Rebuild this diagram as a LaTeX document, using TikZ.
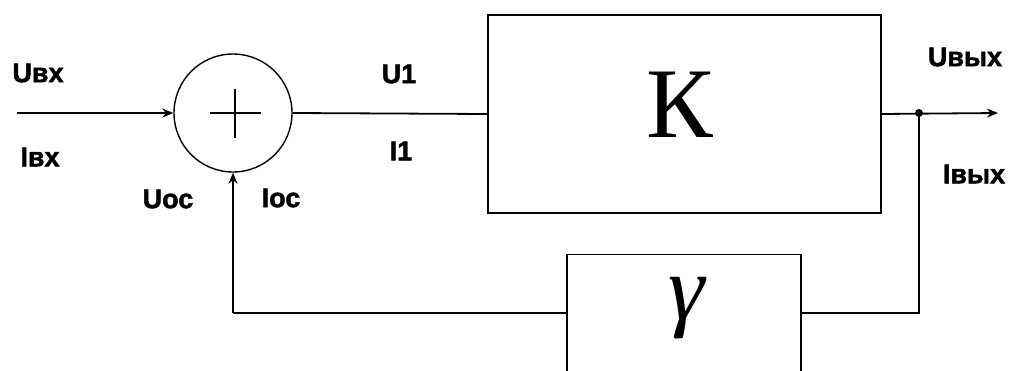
\documentclass[tikz,border=0pt]{standalone}
\usepackage{fontspec}
\setmainfont{Liberation Serif}
\newfontfamily\labfont{Liberation Sans}[BoldFont={Liberation Sans Bold},BoldFeatures={FakeBold=1.6}]
\usetikzlibrary{arrows.meta}
\begin{document}
\begin{tikzpicture}[x=1pt,y=-1pt,
  wire/.style={line width=1.8pt},
  arr/.style={wire,-{Stealth[length=11pt,width=9pt]}},
  blk/.style={draw,line width=1.4pt,inner sep=0pt},
  lab/.style={font=\labfont\bfseries\fontsize{27}{27}\selectfont,inner sep=0pt}]
\clip (0,0) rectangle (1012,370);
\fill[white] (0,0) rectangle (1012,370);
% blocks
\node[blk,circle,minimum size=118pt] (sum) at (233,113) {};
\draw[line width=2.6pt] (210,113) -- (261,113) (235,89) -- (235,138);
\node[blk,minimum width=393pt,minimum height=198pt] (K) at (684.5,114) {};
\node[inner sep=0pt,font=\fontsize{100}{100}\selectfont] (Kt) at (680,105) {К};
\node[blk,minimum width=234pt,minimum height=130pt,anchor=north] (G) at (684,254) {};
\node[inner sep=0pt,font=\itshape\fontsize{92}{92}\selectfont] (Gt) at (687,308) {γ};
% coordinates
\coordinate (in) at (17,113);
\coordinate (out) at (998,113);
\node[circle,fill,inner sep=0pt,minimum size=8pt] (dot) at (919,113) {};
\coordinate (fbr) at (919,313);
\coordinate (fbl) at (233,313);
% connectors
\draw[arr] (in) -- (sum.west);
\draw[wire] (sum.east) -- (K.west);
\draw[arr] (K.east) -- (out);
\draw[wire] (dot) -- (fbr) -- (G.east |- fbr);
\draw[wire] (G.west |- fbl) -- (fbl);
\draw[arr] (fbl) -- (sum.south);
% labels
\node[lab] (Uvx) at (38,73) {Uвх};
\node[lab] (Ivx) at (40,157) {Iвх};
\node[lab] (Uoc) at (168,199) {Uос};
\node[lab] (Ioc) at (281,198) {Iос};
\node[lab] (U1) at (399,74) {U1};
\node[lab] (I1) at (401,151) {I1};
\node[lab] (Uvyx) at (965,57) {Uвых};
\node[lab] (Ivyx) at (974,174) {Iвых};
\end{tikzpicture}
\end{document}
